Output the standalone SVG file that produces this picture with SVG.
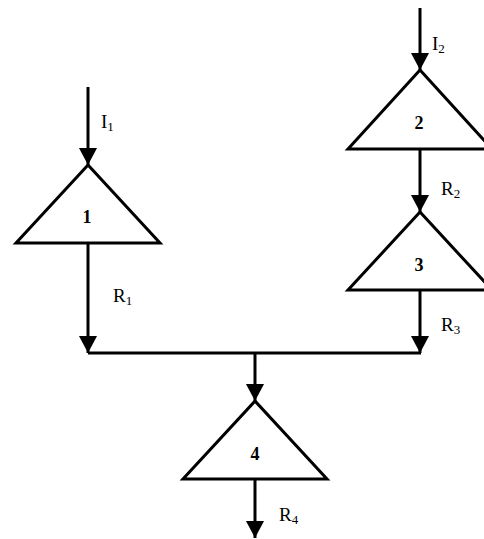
<svg xmlns="http://www.w3.org/2000/svg" width="484" height="539" viewBox="0 0 484 539">
<style>
.tri{fill:#fff;stroke:#000;stroke-width:3;stroke-linejoin:miter}
.ln{fill:none;stroke:#000;stroke-width:3}
.arr{marker-end:url(#ah)}
text{font-family:"Liberation Serif","Times New Roman",serif;fill:#000}
.num{font-size:18px;font-weight:bold;text-anchor:middle}
.lab{font-size:19px}
.sub{font-size:13px}
</style>
<defs>
<marker id="ah" markerUnits="userSpaceOnUse" markerWidth="20" markerHeight="20" viewBox="0 0 20 20" refX="17" refY="10" orient="auto">
<path d="M0,1 L17,10 L0,19 Z" fill="#000"/>
</marker>
</defs>
<g id="connectors">
<line class="ln arr" x1="88" y1="87" x2="88" y2="165"/>
<line class="ln arr" x1="88" y1="243" x2="88" y2="353"/>
<line class="ln arr" x1="420" y1="8" x2="420" y2="70"/>
<line class="ln arr" x1="420" y1="149" x2="420" y2="212"/>
<line class="ln arr" x1="420" y1="290" x2="420" y2="353"/>
<line class="ln" x1="88" y1="353" x2="421" y2="353"/>
<line class="ln arr" x1="255" y1="353" x2="255" y2="401"/>
<line class="ln arr" x1="255" y1="479" x2="255" y2="538"/>
</g>
<g id="labels">
<text class="lab" x="101" y="128">I<tspan class="sub" dy="3">1</tspan></text>
<text class="lab" x="113" y="302">R<tspan class="sub" dy="3">1</tspan></text>
<text class="lab" x="432" y="50">I<tspan class="sub" dy="3">2</tspan></text>
<text class="lab" x="441" y="195">R<tspan class="sub" dy="3">2</tspan></text>
<text class="lab" x="441" y="331">R<tspan class="sub" dy="3">3</tspan></text>
<text class="lab" x="279" y="521">R<tspan class="sub" dy="3">4</tspan></text>
</g>
<g id="node1">
<polygon class="tri" points="88,165 16,243 160,243"/>
<text class="num" x="87" y="223">1</text>
</g>
<g id="node2">
<polygon class="tri" points="420,70 348,149 492,149"/>
<text class="num" x="419" y="129">2</text>
</g>
<g id="node3">
<polygon class="tri" points="420,212 348,290 492,290"/>
<text class="num" x="419" y="271">3</text>
</g>
<g id="node4">
<polygon class="tri" points="255,401 183,479 327,479"/>
<text class="num" x="255" y="460">4</text>
</g>
</svg>
